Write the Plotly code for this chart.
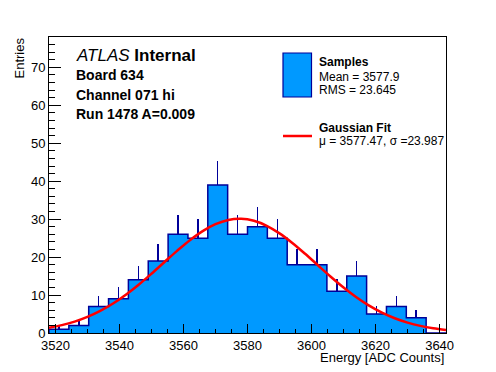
import numpy as np
import plotly.graph_objects as go

# ---------------- data ----------------
bin_edges = [3518.0, 3524.2, 3530.4, 3536.6, 3542.8, 3549.0, 3555.2, 3561.4, 3567.6, 3573.8,
             3580.0, 3586.2, 3592.4, 3598.6, 3604.8, 3611.0, 3617.2, 3623.4, 3629.6, 3635.8, 3642.0]
counts = [1, 2, 7, 9, 14, 19, 26, 25, 39, 26, 28, 25, 18, 18, 11, 15, 5, 7, 4, 0]

fit_x = [3518, 3522, 3526, 3530, 3534, 3538, 3542, 3546, 3550, 3554, 3558, 3562, 3566, 3570,
         3574, 3578, 3582, 3586, 3590, 3594, 3598, 3602, 3606, 3610, 3614, 3618, 3622, 3626,
         3630, 3634, 3638, 3642]
fit_y = [1.39, 2.08, 3.01, 4.25, 5.83, 7.77, 10.09, 12.73, 15.62, 18.65, 21.65, 24.45, 26.85, 28.67,
         29.79, 30.09, 29.57, 28.26, 26.26, 23.74, 20.87, 17.84, 14.84, 12.00, 9.44, 7.22, 5.37, 3.89,
         2.74, 1.87, 1.25, 0.81]

x_range = [3518, 3642]
y_range = [0, 78]
x_tick_vals = [3520, 3540, 3560, 3580, 3600, 3620, 3640]
y_tick_vals = [0, 10, 20, 30, 40, 50, 60, 70]

header_lines = ["<i>ATLAS</i> <b>Internal</b>", "<b>Board 634</b>", "<b>Channel 071 hi</b>",
                "<b>Run 1478 A=0.009</b>"]
legend_hist = ["<b>Samples</b>", "Mean = 3577.9", "RMS = 23.645"]
legend_fit = ["<b>Gaussian Fit</b>", "\u03bc = 3577.47, \u03c3 =23.987"]

# ---------------- styling ----------------
FONT = "Liberation Sans, Arial, Helvetica, sans-serif"
FILL = "#0099ff"
EDGE = "#000099"
RED = "#ff0000"

W, H = 496, 372
ML, MR, MT, MB = 49, 50, 37, 39
PW, PH = W - ML - MR, H - MT - MB


def px(x):
    return (x - ML) / PW


def py(y):
    return (H - MB - y) / PH


centers = [(bin_edges[i] + bin_edges[i + 1]) / 2 for i in range(len(counts))]
widths = [bin_edges[i + 1] - bin_edges[i] for i in range(len(counts))]
errs = list(np.sqrt(np.array(counts, dtype=float)))

fig = go.Figure()
fig.add_trace(go.Bar(
    x=centers, y=counts, width=widths,
    marker=dict(color=FILL, line=dict(width=0)),
    error_y=dict(type="data", symmetric=False, array=errs, arrayminus=[0] * len(counts),
                 color=EDGE, thickness=1.5, width=0),
    showlegend=False, hoverinfo="skip",
))

step_x = [bin_edges[0]] + bin_edges[:-1] + [bin_edges[-1]]
step_y = [0] + counts + [0]
fig.add_trace(go.Scatter(
    x=step_x, y=step_y, mode="lines", line=dict(color=EDGE, width=1.5, shape="hv"),
    showlegend=False, hoverinfo="skip",
))

fig.add_trace(go.Scatter(
    x=fit_x, y=fit_y, mode="lines", line=dict(color=RED, width=2.5, shape="spline"),
    showlegend=False, hoverinfo="skip",
))

axis_common = dict(showline=True, linecolor="black", linewidth=1, mirror=True,
                   ticks="inside", tickcolor="black", tickwidth=1,
                   showgrid=False, zeroline=False,
                   tickfont=dict(family=FONT, size=13, color="black"))

fig.update_xaxes(range=x_range, tickvals=x_tick_vals, ticklen=9,
                 minor=dict(dtick=5, tick0=3520, ticks="inside", ticklen=4, tickcolor="black"),
                 **axis_common)
fig.update_yaxes(range=y_range, tickvals=y_tick_vals, ticklen=12,
                 minor=dict(dtick=2, tick0=0, ticks="inside", ticklen=6, tickcolor="black"),
                 **axis_common)

ann = []
# axis titles
ann.append(dict(text="Energy [ADC Counts]", x=px(446), y=py(357), xref="paper", yref="paper",
                xanchor="right", yanchor="middle", showarrow=False,
                font=dict(family=FONT, size=13, color="black")))
ann.append(dict(text="Entries", x=px(19), y=py(35), xref="paper", yref="paper",
                xanchor="center", yanchor="top", textangle=-90, showarrow=False,
                font=dict(family=FONT, size=13, color="black")))

# header text
header_y = [56, 75, 95, 114]
header_size = [17, 14, 14, 14]
for t, yy, s in zip(header_lines, header_y, header_size):
    ann.append(dict(text=t, x=px(74), y=py(yy), xref="paper", yref="paper",
                    xanchor="left", yanchor="middle", showarrow=False,
                    font=dict(family=FONT, size=s, color="black")))

# legend text
leg_y1 = [62, 77, 90]
for t, yy in zip(legend_hist, leg_y1):
    ann.append(dict(text=t, x=px(317), y=py(yy), xref="paper", yref="paper",
                    xanchor="left", yanchor="middle", showarrow=False,
                    font=dict(family=FONT, size=12, color="black")))
leg_y2 = [128, 141]
for t, yy in zip(legend_fit, leg_y2):
    ann.append(dict(text=t, x=px(317), y=py(yy), xref="paper", yref="paper",
                    xanchor="left", yanchor="middle", showarrow=False,
                    font=dict(family=FONT, size=12, color="black")))

shapes = [
    dict(type="rect", xref="paper", yref="paper", x0=px(283), x1=px(311.5), y0=py(97), y1=py(53),
         fillcolor=FILL, line=dict(color=EDGE, width=1.2)),
    dict(type="line", xref="paper", yref="paper", x0=px(283), x1=px(312), y0=py(136), y1=py(136),
         line=dict(color=RED, width=2.5)),
]

fig.update_layout(
    width=W, height=H,
    margin=dict(l=ML, r=MR, t=MT, b=MB, pad=0),
    plot_bgcolor="white", paper_bgcolor="white",
    bargap=0, showlegend=False,
    annotations=ann, shapes=shapes,
    font=dict(family=FONT, color="black"),
)

fig.write_html("out.html",
               config={"displayModeBar": False},
               post_script="document.body.style.margin='0';document.body.style.padding='0';"
                           "document.body.style.overflow='hidden';")
